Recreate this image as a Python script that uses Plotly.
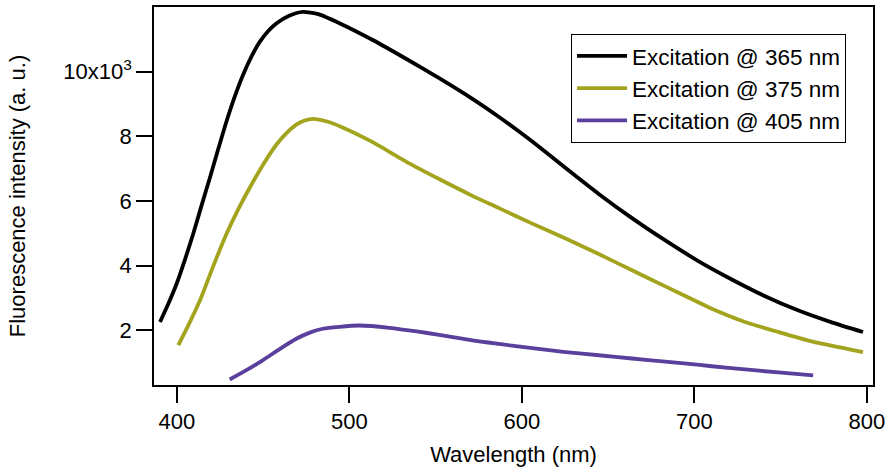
import plotly.graph_objects as go

# Excitation @ 365 nm
wl_365 = [390.2, 395.0, 399.8, 404.6, 409.4, 414.2, 419.1, 423.9, 428.7, 433.5, 438.3, 443.1, 448.0, 452.8, 457.6, 465.0, 473.0, 482.0, 494.2, 513.5, 532.8, 552.0, 571.3, 586.7, 598.3, 606.0, 625.3, 644.5, 663.8, 683.1, 702.0, 720.0, 740.0, 760.0, 780.0, 797.7]
int_365 = [2.26, 2.82, 3.44, 4.18, 4.98, 5.85, 6.72, 7.60, 8.46, 9.23, 9.90, 10.46, 10.92, 11.25, 11.49, 11.73, 11.85, 11.78, 11.50, 10.98, 10.40, 9.80, 9.16, 8.60, 8.15, 7.84, 7.02, 6.22, 5.47, 4.78, 4.15, 3.62, 3.08, 2.62, 2.24, 1.95]

# Excitation @ 375 nm
wl_375 = [400.8, 407.0, 413.3, 421.0, 428.7, 435.5, 442.2, 450.0, 457.6, 463.5, 469.2, 474.0, 478.8, 487.0, 495.0, 513.5, 532.8, 552.0, 571.3, 586.7, 606.0, 625.3, 644.5, 663.8, 683.1, 695.6, 710.1, 729.4, 748.6, 767.9, 797.7]
int_375 = [1.54, 2.20, 2.92, 3.98, 4.98, 5.74, 6.41, 7.13, 7.74, 8.10, 8.36, 8.49, 8.54, 8.46, 8.30, 7.82, 7.22, 6.68, 6.16, 5.78, 5.30, 4.84, 4.36, 3.86, 3.36, 3.04, 2.67, 2.26, 1.95, 1.66, 1.33]

# Excitation @ 405 nm
wl_405 = [430.6, 440.0, 449.9, 459.5, 469.2, 477.0, 484.6, 494.2, 505.8, 523.1, 540.0, 552.0, 571.3, 586.7, 606.0, 625.3, 644.5, 663.8, 683.1, 695.6, 710.0, 729.4, 748.6, 768.8]
int_405 = [0.48, 0.76, 1.08, 1.42, 1.74, 1.93, 2.05, 2.11, 2.15, 2.08, 1.96, 1.86, 1.69, 1.58, 1.45, 1.33, 1.23, 1.13, 1.03, 0.97, 0.89, 0.79, 0.70, 0.61]

y_tickvals = [2, 4, 6, 8, 10]
y_ticktext = ["2", "4", "6", "8", "10x10<sup>3</sup>"]
x_tickvals = [400, 500, 600, 700, 800]

series = [
    ("Excitation @ 365 nm", wl_365, int_365, "#000000"),
    ("Excitation @ 375 nm", wl_375, int_375, "#A3A41E"),
    ("Excitation @ 405 nm", wl_405, int_405, "#5A3F9C"),
]

fig = go.Figure()
for name, x, y, c in series:
    fig.add_trace(go.Scatter(x=x, y=y, name=name, mode="lines",
                             line=dict(color=c, width=3.8, shape="spline", smoothing=0.6)))

font_family = "Liberation Sans, Arial, sans-serif"
fig.update_layout(
    width=896, height=473,
    margin=dict(l=154, r=23, t=5, b=88),
    paper_bgcolor="white", plot_bgcolor="white",
    font=dict(family=font_family, size=22, color="black"),
    showlegend=True,
    legend=dict(x=0.58, y=0.929, xanchor="left", yanchor="top",
                bordercolor="black", borderwidth=1, bgcolor="white",
                font=dict(size=22.5), tracegroupgap=0, itemwidth=50),
    xaxis=dict(range=[386.7, 803.5], tickvals=x_tickvals,
               showline=True, linecolor="black", linewidth=1.5, mirror=True,
               ticks="outside", ticklen=16, tickwidth=1.5, tickcolor="black",
               showgrid=False, zeroline=False,
               tickfont=dict(size=22),
               title=dict(text="Wavelength (nm)", font=dict(size=22), standoff=13)),
    yaxis=dict(range=[0.31, 12.0], tickvals=y_tickvals, ticktext=y_ticktext,
               showline=True, linecolor="black", linewidth=1.5, mirror=True,
               ticks="outside", ticklen=16, tickwidth=1.5, tickcolor="black",
               showgrid=False, zeroline=False,
               tickfont=dict(size=22),
               title=dict(text="Fluorescence intensity (a. u.)", font=dict(size=22), standoff=32)),
)

fig.write_html("out.html", config={"displayModeBar": False},
               post_script="document.body.style.margin='0';document.body.style.overflow='hidden';")
